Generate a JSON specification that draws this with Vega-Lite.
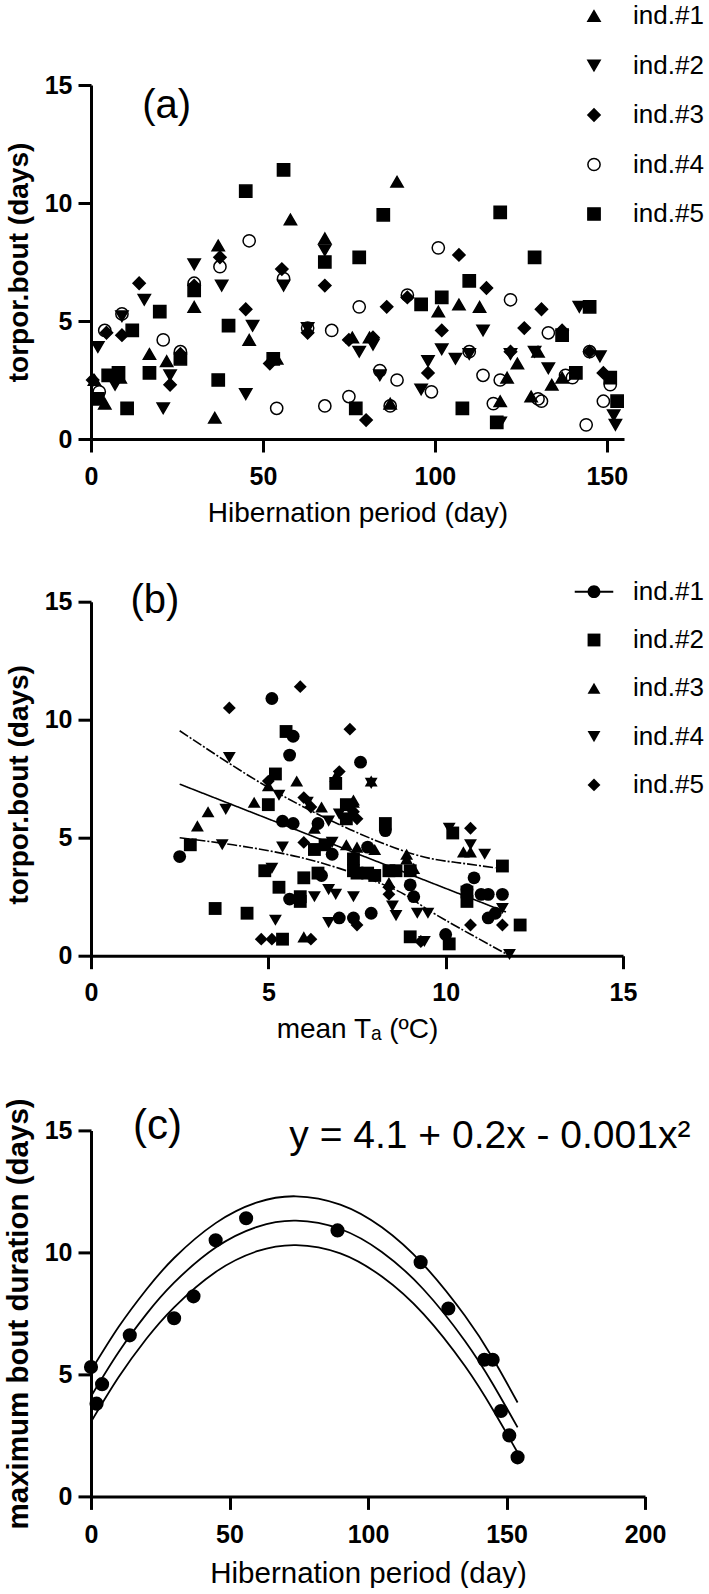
{
  "$schema": "https://vega.github.io/schema/vega-lite/v6.json",
  "background": "white",
  "padding": {"left": 3, "top": 3, "right": 0, "bottom": 0},
  "config": {
    "font": "Liberation Sans",
    "view": {"stroke": null},
    "axis": {
      "grid": false, "domainColor": "black", "domainWidth": 3, "tickColor": "black", "tickWidth": 3, "tickSize": 13,
      "labelFont": "Liberation Sans", "labelFontSize": 25, "labelFontWeight": "bold", "labelColor": "black",
      "labelFlush": false, "labelOverlap": false, "titleFont": "Liberation Sans", "titleColor": "black"
    },
    "legend": {"labelFont": "Liberation Sans", "labelFontSize": 26, "labelColor": "black", "padding": 0}
  },
  "bounds": "flush",
  "spacing": 162.7,
  "resolve": {
    "scale": {"x": "independent", "y": "independent", "shape": "independent", "fill": "independent", "stroke": "independent", "strokeDash": "independent"},
    "legend": {"shape": "independent", "fill": "independent", "stroke": "independent"},
    "axis": {"x": "independent", "y": "independent"}
  },
  "datasets": {
    "a": [
      {"id":"ind.#1","day":1,"bout":2.5},{"id":"ind.#1","day":4,"bout":1.5},{"id":"ind.#1","day":8.5,"bout":2.6},{"id":"ind.#1","day":17,"bout":3.6},{"id":"ind.#1","day":22,"bout":3.3},{"id":"ind.#1","day":30,"bout":5.6},{"id":"ind.#1","day":36,"bout":0.9},{"id":"ind.#1","day":37,"bout":8.2},{"id":"ind.#1","day":46,"bout":4.2},{"id":"ind.#1","day":54,"bout":3.4},{"id":"ind.#1","day":58,"bout":9.3},{"id":"ind.#1","day":68,"bout":8.5},{"id":"ind.#1","day":76,"bout":4.3},{"id":"ind.#1","day":81,"bout":4.3},{"id":"ind.#1","day":87,"bout":1.5},{"id":"ind.#1","day":89,"bout":10.9},{"id":"ind.#1","day":101,"bout":5.4},{"id":"ind.#1","day":107,"bout":5.7},{"id":"ind.#1","day":113,"bout":5.6},{"id":"ind.#1","day":119,"bout":1.6},{"id":"ind.#1","day":121,"bout":2.6},{"id":"ind.#1","day":124,"bout":3.2},{"id":"ind.#1","day":128,"bout":1.8},{"id":"ind.#1","day":130,"bout":3.7},{"id":"ind.#1","day":134,"bout":2.3},{"id":"ind.#1","day":137,"bout":2.6},
      {"id":"ind.#2","day":2,"bout":3.9},{"id":"ind.#2","day":7,"bout":2.3},{"id":"ind.#2","day":9,"bout":5.2},{"id":"ind.#2","day":15.5,"bout":5.9},{"id":"ind.#2","day":21,"bout":1.3},{"id":"ind.#2","day":23,"bout":2.7},{"id":"ind.#2","day":30,"bout":7.4},{"id":"ind.#2","day":38,"bout":6.5},{"id":"ind.#2","day":45,"bout":1.9},{"id":"ind.#2","day":47,"bout":4.8},{"id":"ind.#2","day":56,"bout":6.5},{"id":"ind.#2","day":63,"bout":4.7},{"id":"ind.#2","day":68,"bout":8.0},{"id":"ind.#2","day":78,"bout":3.7},{"id":"ind.#2","day":82,"bout":4.0},{"id":"ind.#2","day":84,"bout":2.7},{"id":"ind.#2","day":96,"bout":2.1},{"id":"ind.#2","day":98,"bout":3.3},{"id":"ind.#2","day":102,"bout":3.8},{"id":"ind.#2","day":106,"bout":3.4},{"id":"ind.#2","day":110,"bout":3.6},{"id":"ind.#2","day":114,"bout":4.6},{"id":"ind.#2","day":119,"bout":0.7},{"id":"ind.#2","day":122,"bout":3.6},{"id":"ind.#2","day":129,"bout":3.7},{"id":"ind.#2","day":133,"bout":3.0},{"id":"ind.#2","day":142,"bout":5.6},{"id":"ind.#2","day":148,"bout":3.5},{"id":"ind.#2","day":152,"bout":1.0},{"id":"ind.#2","day":152.5,"bout":0.6},
      {"id":"ind.#3","day":0.5,"bout":2.5},{"id":"ind.#3","day":4.5,"bout":4.5},{"id":"ind.#3","day":9,"bout":4.4},{"id":"ind.#3","day":14,"bout":6.6},{"id":"ind.#3","day":23,"bout":2.3},{"id":"ind.#3","day":26,"bout":3.6},{"id":"ind.#3","day":30,"bout":6.5},{"id":"ind.#3","day":37.5,"bout":7.7},{"id":"ind.#3","day":45,"bout":5.5},{"id":"ind.#3","day":52,"bout":3.2},{"id":"ind.#3","day":55.5,"bout":7.2},{"id":"ind.#3","day":63,"bout":4.5},{"id":"ind.#3","day":68,"bout":6.5},{"id":"ind.#3","day":75,"bout":4.2},{"id":"ind.#3","day":80,"bout":0.8},{"id":"ind.#3","day":82,"bout":4.3},{"id":"ind.#3","day":86,"bout":5.6},{"id":"ind.#3","day":92,"bout":6.0},{"id":"ind.#3","day":98,"bout":2.8},{"id":"ind.#3","day":102,"bout":4.6},{"id":"ind.#3","day":107,"bout":7.8},{"id":"ind.#3","day":115,"bout":6.4},{"id":"ind.#3","day":122,"bout":3.7},{"id":"ind.#3","day":126,"bout":4.7},{"id":"ind.#3","day":131,"bout":5.5},{"id":"ind.#3","day":137,"bout":4.6},{"id":"ind.#3","day":145,"bout":3.7},{"id":"ind.#3","day":149,"bout":2.8},
      {"id":"ind.#4","day":2.4,"bout":2.0},{"id":"ind.#4","day":4,"bout":4.6},{"id":"ind.#4","day":9,"bout":5.3},{"id":"ind.#4","day":21,"bout":4.2},{"id":"ind.#4","day":26,"bout":3.7},{"id":"ind.#4","day":30,"bout":6.6},{"id":"ind.#4","day":37.5,"bout":7.3},{"id":"ind.#4","day":46,"bout":8.4},{"id":"ind.#4","day":54,"bout":1.3},{"id":"ind.#4","day":56,"bout":6.8},{"id":"ind.#4","day":63,"bout":4.7},{"id":"ind.#4","day":68,"bout":1.4},{"id":"ind.#4","day":70,"bout":4.6},{"id":"ind.#4","day":75,"bout":1.8},{"id":"ind.#4","day":78,"bout":5.6},{"id":"ind.#4","day":84,"bout":2.9},{"id":"ind.#4","day":87,"bout":1.4},{"id":"ind.#4","day":89,"bout":2.5},{"id":"ind.#4","day":92,"bout":6.1},{"id":"ind.#4","day":99,"bout":2.0},{"id":"ind.#4","day":101,"bout":8.1},{"id":"ind.#4","day":110,"bout":3.7},{"id":"ind.#4","day":114,"bout":2.7},{"id":"ind.#4","day":117,"bout":1.5},{"id":"ind.#4","day":119,"bout":2.5},{"id":"ind.#4","day":122,"bout":5.9},{"id":"ind.#4","day":130,"bout":1.7},{"id":"ind.#4","day":131,"bout":1.6},{"id":"ind.#4","day":133,"bout":4.5},{"id":"ind.#4","day":138,"bout":2.7},{"id":"ind.#4","day":140,"bout":2.6},{"id":"ind.#4","day":144,"bout":0.6},{"id":"ind.#4","day":145,"bout":3.7},{"id":"ind.#4","day":149,"bout":1.6},{"id":"ind.#4","day":151,"bout":2.3},
      {"id":"ind.#5","day":2,"bout":1.7},{"id":"ind.#5","day":5,"bout":2.7},{"id":"ind.#5","day":8,"bout":2.8},{"id":"ind.#5","day":10.5,"bout":1.3},{"id":"ind.#5","day":12,"bout":4.6},{"id":"ind.#5","day":17,"bout":2.8},{"id":"ind.#5","day":20,"bout":5.4},{"id":"ind.#5","day":26,"bout":3.4},{"id":"ind.#5","day":30,"bout":6.3},{"id":"ind.#5","day":37,"bout":2.5},{"id":"ind.#5","day":40,"bout":4.8},{"id":"ind.#5","day":45,"bout":10.5},{"id":"ind.#5","day":53,"bout":3.4},{"id":"ind.#5","day":56,"bout":11.4},{"id":"ind.#5","day":68,"bout":7.5},{"id":"ind.#5","day":77,"bout":1.3},{"id":"ind.#5","day":78,"bout":7.7},{"id":"ind.#5","day":85,"bout":9.5},{"id":"ind.#5","day":96,"bout":5.7},{"id":"ind.#5","day":102,"bout":6.0},{"id":"ind.#5","day":108,"bout":1.3},{"id":"ind.#5","day":110,"bout":6.7},{"id":"ind.#5","day":118,"bout":0.7},{"id":"ind.#5","day":119,"bout":9.6},{"id":"ind.#5","day":129,"bout":7.7},{"id":"ind.#5","day":137,"bout":4.4},{"id":"ind.#5","day":141,"bout":2.8},{"id":"ind.#5","day":145,"bout":5.6},{"id":"ind.#5","day":151,"bout":2.6},{"id":"ind.#5","day":153,"bout":1.6}
    ],
    "b": [
      {"id":"ind.#1","temp":2.5,"bout":4.2},{"id":"ind.#1","temp":5.1,"bout":10.9},{"id":"ind.#1","temp":5.7,"bout":9.3},{"id":"ind.#1","temp":5.6,"bout":8.5},{"id":"ind.#1","temp":7.6,"bout":8.2},{"id":"ind.#1","temp":5.4,"bout":5.7},{"id":"ind.#1","temp":5.7,"bout":5.6},{"id":"ind.#1","temp":6.4,"bout":5.6},{"id":"ind.#1","temp":6.8,"bout":4.3},{"id":"ind.#1","temp":6.5,"bout":3.4},{"id":"ind.#1","temp":5.6,"bout":2.4},{"id":"ind.#1","temp":7.0,"bout":1.6},{"id":"ind.#1","temp":7.4,"bout":1.6},{"id":"ind.#1","temp":7.9,"bout":1.8},{"id":"ind.#1","temp":7.8,"bout":4.6},{"id":"ind.#1","temp":8.3,"bout":5.3},{"id":"ind.#1","temp":9.1,"bout":2.5},{"id":"ind.#1","temp":9.0,"bout":3.0},{"id":"ind.#1","temp":10.0,"bout":0.9},{"id":"ind.#1","temp":10.8,"bout":3.3},{"id":"ind.#1","temp":10.6,"bout":2.8},{"id":"ind.#1","temp":11.0,"bout":2.6},{"id":"ind.#1","temp":11.2,"bout":2.6},{"id":"ind.#1","temp":11.6,"bout":2.6},{"id":"ind.#1","temp":11.2,"bout":1.6},{"id":"ind.#1","temp":11.4,"bout":1.8},
      {"id":"ind.#2","temp":2.8,"bout":4.7},{"id":"ind.#2","temp":3.5,"bout":2.0},{"id":"ind.#2","temp":4.4,"bout":1.8},{"id":"ind.#2","temp":4.9,"bout":3.6},{"id":"ind.#2","temp":5.0,"bout":6.4},{"id":"ind.#2","temp":5.2,"bout":7.7},{"id":"ind.#2","temp":5.5,"bout":9.5},{"id":"ind.#2","temp":5.3,"bout":2.9},{"id":"ind.#2","temp":5.4,"bout":0.7},{"id":"ind.#2","temp":5.9,"bout":2.5},{"id":"ind.#2","temp":5.9,"bout":2.3},{"id":"ind.#2","temp":6.0,"bout":3.3},{"id":"ind.#2","temp":6.3,"bout":4.5},{"id":"ind.#2","temp":6.4,"bout":3.5},{"id":"ind.#2","temp":6.6,"bout":4.7},{"id":"ind.#2","temp":6.9,"bout":7.3},{"id":"ind.#2","temp":7.2,"bout":6.4},{"id":"ind.#2","temp":7.2,"bout":5.8},{"id":"ind.#2","temp":7.4,"bout":4.1},{"id":"ind.#2","temp":7.4,"bout":3.6},{"id":"ind.#2","temp":7.5,"bout":3.5},{"id":"ind.#2","temp":7.8,"bout":3.5},{"id":"ind.#2","temp":8.0,"bout":3.4},{"id":"ind.#2","temp":8.3,"bout":5.6},{"id":"ind.#2","temp":8.4,"bout":3.6},{"id":"ind.#2","temp":8.6,"bout":3.6},{"id":"ind.#2","temp":9.0,"bout":3.6},{"id":"ind.#2","temp":9.0,"bout":0.8},{"id":"ind.#2","temp":10.1,"bout":0.5},{"id":"ind.#2","temp":10.2,"bout":5.2},{"id":"ind.#2","temp":10.6,"bout":2.7},{"id":"ind.#2","temp":10.6,"bout":2.3},{"id":"ind.#2","temp":11.6,"bout":3.8},{"id":"ind.#2","temp":12.1,"bout":1.3},
      {"id":"ind.#3","temp":3.0,"bout":5.5},{"id":"ind.#3","temp":3.3,"bout":6.1},{"id":"ind.#3","temp":4.6,"bout":6.5},{"id":"ind.#3","temp":5.0,"bout":7.2},{"id":"ind.#3","temp":5.8,"bout":7.4},{"id":"ind.#3","temp":6.0,"bout":0.8},{"id":"ind.#3","temp":6.3,"bout":5.4},{"id":"ind.#3","temp":6.5,"bout":6.3},{"id":"ind.#3","temp":6.9,"bout":7.6},{"id":"ind.#3","temp":7.2,"bout":4.7},{"id":"ind.#3","temp":7.4,"bout":6.5},{"id":"ind.#3","temp":7.4,"bout":6.6},{"id":"ind.#3","temp":7.5,"bout":4.6},{"id":"ind.#3","temp":7.9,"bout":7.4},{"id":"ind.#3","temp":8.0,"bout":4.5},{"id":"ind.#3","temp":8.4,"bout":3.1},{"id":"ind.#3","temp":8.9,"bout":4.3},{"id":"ind.#3","temp":8.9,"bout":4.1},{"id":"ind.#3","temp":9.1,"bout":3.7},{"id":"ind.#3","temp":10.5,"bout":4.4},{"id":"ind.#3","temp":10.7,"bout":4.4},
      {"id":"ind.#4","temp":3.7,"bout":4.7},{"id":"ind.#4","temp":3.8,"bout":6.2},{"id":"ind.#4","temp":3.9,"bout":8.4},{"id":"ind.#4","temp":5.1,"bout":3.7},{"id":"ind.#4","temp":5.2,"bout":1.5},{"id":"ind.#4","temp":5.3,"bout":6.8},{"id":"ind.#4","temp":5.4,"bout":4.6},{"id":"ind.#4","temp":6.1,"bout":6.5},{"id":"ind.#4","temp":6.3,"bout":2.5},{"id":"ind.#4","temp":6.7,"bout":2.8},{"id":"ind.#4","temp":6.7,"bout":1.4},{"id":"ind.#4","temp":6.7,"bout":5.7},{"id":"ind.#4","temp":6.8,"bout":4.8},{"id":"ind.#4","temp":6.9,"bout":2.6},{"id":"ind.#4","temp":7.0,"bout":6.0},{"id":"ind.#4","temp":7.4,"bout":2.5},{"id":"ind.#4","temp":7.9,"bout":7.3},{"id":"ind.#4","temp":8.5,"bout":2.1},{"id":"ind.#4","temp":8.6,"bout":1.7},{"id":"ind.#4","temp":9.2,"bout":1.8},{"id":"ind.#4","temp":9.4,"bout":0.6},{"id":"ind.#4","temp":9.5,"bout":1.8},{"id":"ind.#4","temp":10.1,"bout":5.4},{"id":"ind.#4","temp":10.7,"bout":4.7},{"id":"ind.#4","temp":11.1,"bout":4.3},{"id":"ind.#4","temp":11.6,"bout":2.0},{"id":"ind.#4","temp":11.8,"bout":0.05},
      {"id":"ind.#5","temp":3.9,"bout":10.5},{"id":"ind.#5","temp":4.8,"bout":0.7},{"id":"ind.#5","temp":5.0,"bout":7.4},{"id":"ind.#5","temp":5.1,"bout":0.7},{"id":"ind.#5","temp":5.9,"bout":11.4},{"id":"ind.#5","temp":6.0,"bout":6.7},{"id":"ind.#5","temp":6.0,"bout":4.8},{"id":"ind.#5","temp":6.2,"bout":6.3},{"id":"ind.#5","temp":6.2,"bout":0.7},{"id":"ind.#5","temp":7.0,"bout":7.8},{"id":"ind.#5","temp":7.3,"bout":9.6},{"id":"ind.#5","temp":7.4,"bout":6.1},{"id":"ind.#5","temp":7.5,"bout":5.8},{"id":"ind.#5","temp":7.5,"bout":1.3},{"id":"ind.#5","temp":8.4,"bout":2.6},{"id":"ind.#5","temp":8.4,"bout":2.9},{"id":"ind.#5","temp":9.3,"bout":0.6},{"id":"ind.#5","temp":10.7,"bout":5.4},{"id":"ind.#5","temp":10.7,"bout":1.3},{"id":"ind.#5","temp":11.6,"bout":1.3}
    ],
    "bfit": [
      {"curve":"fit","temp":2.5,"val":7.27},{"curve":"fit","temp":11.7,"val":1.85},
      {"curve":"upper","temp":2.5,"val":9.53},{"curve":"upper","temp":4,"val":8.05},{"curve":"upper","temp":5.5,"val":6.7},{"curve":"upper","temp":7.3,"val":5.35},{"curve":"upper","temp":9.1,"val":4.3},{"curve":"upper","temp":10.3,"val":3.95},{"curve":"upper","temp":11.4,"val":3.72},
      {"curve":"lower","temp":2.5,"val":5.0},{"curve":"lower","temp":4,"val":4.7},{"curve":"lower","temp":5.5,"val":4.3},{"curve":"lower","temp":7,"val":3.7},{"curve":"lower","temp":8.5,"val":2.85},{"curve":"lower","temp":9.2,"val":2.25},{"curve":"lower","temp":10,"val":1.5},{"curve":"lower","temp":11.8,"val":0.0}
    ],
    "c": [
      {"day":0,"max":5.3},{"day":2,"max":3.8},{"day":4,"max":4.6},{"day":14,"max":6.6},{"day":30,"max":7.3},{"day":37,"max":8.2},{"day":45,"max":10.5},{"day":56,"max":11.4},{"day":89,"max":10.9},{"day":119,"max":9.6},{"day":129,"max":7.7},{"day":142,"max":5.6},{"day":145,"max":5.6},{"day":148,"max":3.5},{"day":151,"max":2.5},{"day":154,"max":1.6}
    ],
    "cfit": [
      {"curve":"mid","day":0,"val":4.1},{"curve":"mid","day":10,"val":5.92},{"curve":"mid","day":20,"val":7.47},{"curve":"mid","day":30,"val":8.76},{"curve":"mid","day":45,"val":10.2},{"curve":"mid","day":60,"val":11.05},{"curve":"mid","day":74,"val":11.3},{"curve":"mid","day":90,"val":10.96},{"curve":"mid","day":105,"val":10.02},{"curve":"mid","day":120,"val":8.49},{"curve":"mid","day":135,"val":6.37},{"curve":"mid","day":145,"val":4.62},{"curve":"mid","day":154,"val":2.83},
      {"curve":"upper","day":0,"val":5.15},{"curve":"upper","day":10,"val":6.95},{"curve":"upper","day":20,"val":8.48},{"curve":"upper","day":30,"val":9.77},{"curve":"upper","day":45,"val":11.2},{"curve":"upper","day":60,"val":12.05},{"curve":"upper","day":74,"val":12.3},{"curve":"upper","day":90,"val":11.96},{"curve":"upper","day":105,"val":11.03},{"curve":"upper","day":120,"val":9.5},{"curve":"upper","day":135,"val":7.4},{"curve":"upper","day":145,"val":5.67},{"curve":"upper","day":154,"val":3.85},
      {"curve":"lower","day":0,"val":3.05},{"curve":"lower","day":10,"val":4.89},{"curve":"lower","day":20,"val":6.46},{"curve":"lower","day":30,"val":7.75},{"curve":"lower","day":45,"val":9.2},{"curve":"lower","day":60,"val":10.05},{"curve":"lower","day":74,"val":10.3},{"curve":"lower","day":90,"val":9.96},{"curve":"lower","day":105,"val":9.01},{"curve":"lower","day":120,"val":7.48},{"curve":"lower","day":135,"val":5.34},{"curve":"lower","day":145,"val":3.57},{"curve":"lower","day":154,"val":1.8}
    ]
  },
  "vconcat": [
    {
      "width": 533,
      "height": 354,
      "layer": [
        {
          "data": {"name": "a"},
          "mark": {"type": "point", "filled": true, "strokeWidth": 1.5, "size": 150, "opacity": 1},
          "encoding": {
            "x": {"field": "day", "type": "quantitative", "scale": {"domain": [0, 155], "nice": false, "zero": false},
                  "axis": {"values": [0, 50, 100, 150], "title": "Hibernation period (day)", "titleFontSize": 28, "titleFontWeight": "normal", "labelPadding": 12, "titlePadding": 10}},
            "y": {"field": "bout", "type": "quantitative", "scale": {"domain": [0, 15], "nice": false},
                  "axis": {"values": [0, 5, 10, 15], "title": "torpor.bout (days)", "titleFontSize": 28, "titleFontWeight": "bold", "labelPadding": 6, "titlePadding": 11}},
            "shape": {"field": "id", "type": "nominal",
                      "scale": {"domain": ["ind.#1", "ind.#2", "ind.#3", "ind.#4", "ind.#5"], "range": ["triangle-up", "triangle-down", "diamond", "circle", "square"]},
                      "legend": {"title": null, "orient": "none", "legendX": 490, "legendY": -82, "labelOffset": 26, "rowPadding": 23.5, "symbolSize": 150, "symbolStrokeWidth": 1.5, "labelFontSize": 26}},
            "fill": {"field": "id", "type": "nominal",
                     "scale": {"domain": ["ind.#1", "ind.#2", "ind.#3", "ind.#4", "ind.#5"], "range": ["black", "black", "black", "transparent", "black"]},
                     "legend": {"title": null, "orient": "none", "legendX": 490, "legendY": -82, "labelOffset": 26, "rowPadding": 23.5, "symbolSize": 150, "symbolStrokeWidth": 1.5, "labelFontSize": 26}},
            "stroke": {"field": "id", "type": "nominal",
                     "scale": {"domain": ["ind.#1", "ind.#2", "ind.#3", "ind.#4", "ind.#5"], "range": ["black", "black", "black", "black", "black"]},
                     "legend": {"title": null, "orient": "none", "legendX": 490, "legendY": -82, "labelOffset": 26, "rowPadding": 23.5, "symbolSize": 150, "symbolStrokeWidth": 1.5, "labelFontSize": 26}}
          }
        },
        {
          "data": {"values": [{"t": "(a)"}]},
          "mark": {"type": "text", "fontSize": 40, "align": "center", "baseline": "middle", "color": "black", "font": "Liberation Sans"},
          "encoding": {"x": {"datum": 22}, "y": {"datum": 14.1}, "text": {"field": "t"}}
        }
      ]
    },
    {
      "width": 532,
      "height": 365.3,
      "layer": [
        {
          "data": {"name": "bfit"},
          "mark": {"type": "line", "color": "black", "strokeWidth": 1.6, "interpolate": "natural"},
          "encoding": {
            "x": {"field": "temp", "type": "quantitative"},
            "y": {"field": "val", "type": "quantitative"},
            "detail": {"field": "curve"},
            "strokeDash": {"field": "curve", "type": "nominal", "scale": {"domain": ["fit", "lower", "upper"], "range": [[1, 0], [10, 2, 2, 2], [10, 2, 2, 2]]}, "legend": null}
          }
        },
        {
          "data": {"name": "b"},
          "transform": [{"filter": "datum.id !== 'ind.#1'"}],
          "mark": {"type": "point", "filled": true, "color": "black", "size": 165, "opacity": 1},
          "encoding": {
            "x": {"field": "temp", "type": "quantitative", "scale": {"domain": [0, 15], "nice": false, "zero": false},
                  "axis": {"values": [0, 5, 10, 15], "title": "mean Tₐ (ºC)", "titleFontSize": 28, "titleFontWeight": "normal", "labelPadding": 12, "titlePadding": 10, "offset": -11.3}},
            "y": {"field": "bout", "type": "quantitative", "scale": {"domain": [-0.479, 15], "nice": false, "zero": false},
                  "axis": {"values": [0, 5, 10, 15], "title": "torpor.bout (days)", "titleFontSize": 28, "titleFontWeight": "bold", "labelPadding": 6, "titlePadding": 11}},
            "shape": {"field": "id", "type": "nominal",
                      "scale": {"domain": ["ind.#1", "ind.#2", "ind.#3", "ind.#4", "ind.#5"], "range": ["M-3,-0.15L3,-0.15L3,0.15L-3,0.15Z M1,0A1,1 0 1,1 -1,0A1,1 0 1,1 1,0Z", "square", "triangle-up", "triangle-down", "diamond"]},
                      "legend": {"title": null, "orient": "none", "legendX": 490, "legendY": -23, "labelOffset": 26, "rowPadding": 22.3, "symbolSize": 165, "labelFontSize": 26}}
          }
        },
        {
          "data": {"name": "b"},
          "transform": [{"filter": "datum.id === 'ind.#1'"}],
          "mark": {"type": "point", "filled": true, "color": "black", "size": 165, "opacity": 1, "shape": "circle"},
          "encoding": {
            "x": {"field": "temp", "type": "quantitative"},
            "y": {"field": "bout", "type": "quantitative"}
          }
        },
        {
          "data": {"values": [{"t": "(b)"}]},
          "mark": {"type": "text", "fontSize": 40, "align": "center", "baseline": "middle", "color": "black", "font": "Liberation Sans"},
          "encoding": {"x": {"datum": 1.8}, "y": {"datum": 15.05}, "text": {"field": "t"}}
        }
      ]
    },
    {
      "width": 554,
      "height": 366,
      "layer": [
        {
          "data": {"name": "cfit"},
          "mark": {"type": "line", "color": "black", "strokeWidth": 1.8, "interpolate": "natural"},
          "encoding": {
            "x": {"field": "day", "type": "quantitative"},
            "y": {"field": "val", "type": "quantitative"},
            "detail": {"field": "curve"}
          }
        },
        {
          "data": {"name": "c"},
          "mark": {"type": "point", "filled": true, "color": "black", "size": 200, "opacity": 1, "shape": "circle"},
          "encoding": {
            "x": {"field": "day", "type": "quantitative", "scale": {"domain": [0, 200], "nice": false, "zero": false},
                  "axis": {"values": [0, 50, 100, 150, 200], "title": "Hibernation period (day)", "titleFontSize": 29.5, "titleFontWeight": "normal", "labelPadding": 13, "titlePadding": 12}},
            "y": {"field": "max", "type": "quantitative", "scale": {"domain": [0, 15], "nice": false},
                  "axis": {"values": [0, 5, 10, 15], "title": "maximum bout duration (days)", "titleFontSize": 29.5, "titleFontWeight": "bold", "labelPadding": 6, "titlePadding": 11}}
          }
        },
        {
          "data": {"values": [{"t": "(c)"}]},
          "mark": {"type": "text", "fontSize": 42, "align": "center", "baseline": "middle", "color": "black", "font": "Liberation Sans"},
          "encoding": {"x": {"datum": 24}, "y": {"datum": 15.2}, "text": {"field": "t"}}
        },
        {
          "data": {"values": [{"t": "y = 4.1 + 0.2x - 0.001x²"}]},
          "mark": {"type": "text", "fontSize": 39, "align": "center", "baseline": "alphabetic", "color": "black", "font": "Liberation Sans"},
          "encoding": {"x": {"datum": 144}, "y": {"datum": 14.28}, "text": {"field": "t"}}
        }
      ]
    }
  ]
}
